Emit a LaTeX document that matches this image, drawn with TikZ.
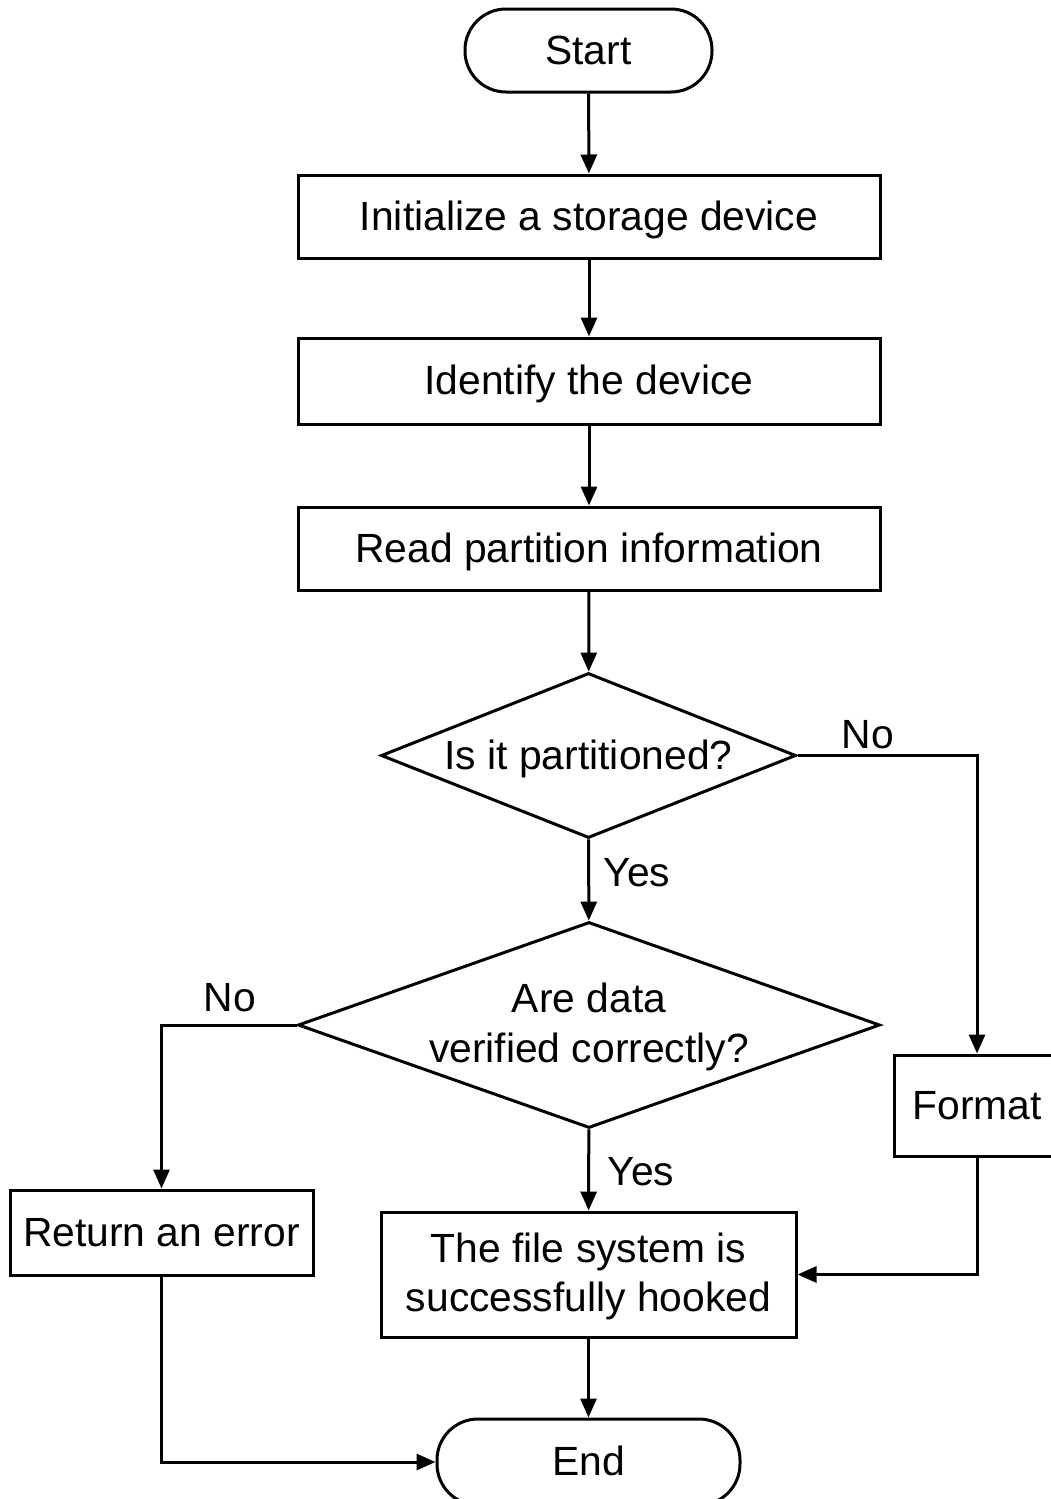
\documentclass[tikz,border=0pt]{standalone}
\usepackage{fontspec}
\setmainfont{Liberation Sans}
\usetikzlibrary{shapes.geometric,arrows.meta}
\begin{document}
\begin{tikzpicture}[x=1pt,y=-1pt,
  every node/.style={font=\fontsize{40.8}{49.5}\selectfont},
  conn/.style={line width=3pt},
  arr/.style={conn,-{Triangle[length=19pt,width=16pt]}},
  oneline/.style={text height=36pt,text depth=9pt},
  box/.style={draw,line width=3pt,rectangle,inner sep=0pt,align=center},
  term/.style={draw,line width=3pt,rectangle,rounded corners=41pt,inner sep=0pt,oneline},
  decide/.style={draw,line width=3pt,diamond,inner sep=0pt},
  lbl/.style={inner sep=0pt}]
  \useasboundingbox (0,0) rectangle (1051,1499);
  \fill[white] (0,0) rectangle (1051,1499);
  \clip (0,0) rectangle (1051,1499);

  % terminals
  \node[term,minimum width=247pt,minimum height=83pt] (start) at (588.5,50.5) {Start};
  \node[term,minimum width=303pt,minimum height=86pt] (end) at (588.5,1462) {End};

  % process steps
  \node[box,oneline,minimum width=582pt,minimum height=83pt] (init) at (589,216.5) {Initialize a storage device};
  \node[box,oneline,minimum width=582pt,minimum height=86pt] (ident) at (589,381) {Identify the device};
  \node[box,oneline,minimum width=582pt,minimum height=83pt] (read) at (589,548.5) {Read partition information};

  % decisions
  \node[decide,minimum width=415pt,minimum height=165pt] (part) at (588.5,755.5) {};
  \node[lbl,oneline] at (part) {Is it partitioned?};
  \node[decide,minimum width=582pt,minimum height=206pt] (verify) at (589,1025) {};
  \node[lbl,align=center] at ([yshift=-2pt]verify.center) {Are data\\verified correctly?};

  % outcomes
  \node[box,oneline,minimum width=166pt,minimum height=101pt] (fmt) at (977,1105.5) {Format};
  \node[box,oneline,minimum width=303pt,minimum height=85pt] (err) at (161.5,1232.5) {Return an error};
  \node[box,minimum width=415pt,minimum height=125pt] (hook) at (588.5,1274.5) {};
  \node[lbl,align=center] at ([yshift=-2pt]hook.center) {The file system is\\successfully hooked};

  % connectors
  \draw[arr] (start) -- (init);
  \draw[arr] (init) -- (ident);
  \draw[arr] (ident) -- (read);
  \draw[arr] (read) -- (part);
  \draw[arr] (part) -- (verify);
  \draw[arr] (part.east) -| (fmt.north);
  \draw[arr] (verify.west) -| (err.north);
  \draw[arr] (verify) -- (hook);
  \draw[arr] (fmt.south) |- (hook.east);
  \draw[arr] (hook) -- (end);
  \draw[arr] (err.south) |- (end.west);

  % branch labels
  \node[lbl] at (868,735) {No};
  \node[lbl] at (637,873) {Yes};
  \node[lbl] at (230,998) {No};
  \node[lbl] at (641,1172) {Yes};
\end{tikzpicture}
\end{document}
